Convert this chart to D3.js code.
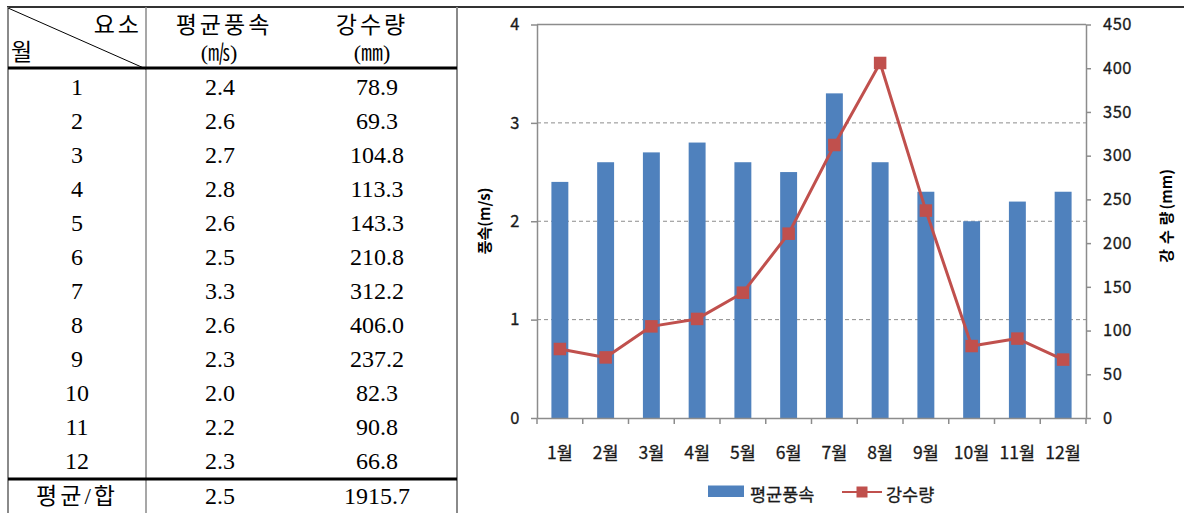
<!DOCTYPE html>
<html>
<head>
<meta charset="utf-8">
<script src="https://cdn.jsdelivr.net/npm/d3@7"></script>
<style>
  body { margin: 0; background: #fff; }
  svg { display: block; }
</style>
</head>
<body>
<svg id="sheet" width="1184" height="513"></svg>
<script>
// ---- data ----
const months = ["1월", "2월", "3월", "4월", "5월", "6월", "7월", "8월", "9월", "10월", "11월", "12월"];
const monthNumbers = [1, 2, 3, 4, 5, 6, 7, 8, 9, 10, 11, 12];
const windSpeed = [2.4, 2.6, 2.7, 2.8, 2.6, 2.5, 3.3, 2.6, 2.3, 2.0, 2.2, 2.3];
const rainfall = [78.9, 69.3, 104.8, 113.3, 143.3, 210.8, 312.2, 406.0, 237.2, 82.3, 90.8, 66.8];
const windTicks = [0, 1, 2, 3, 4];
const rainTicks = [0, 50, 100, 150, 200, 250, 300, 350, 400, 450];
const seriesNames = ["평균풍속", "강수량"];
const windTitle = ["풍속", "(m/s)"];
const rainTitle = ["강수량", "(mm)"];
const headerCorner = ["요소", "월"];
const headerNames = ["평균풍속", "강수량"];
const headerUnits = ["(㎧)", "(㎜)"];
const footerLabel = "평균/합";

const svg = d3.select("#sheet");
const BLUE = "#4F81BD", RED = "#C0504D", GRID = "#8c8c8c", INK = "#1a1a1a";
const chartFont = "'Noto Sans CJK KR', 'Noto Sans', sans-serif";
const tableFont = "'Liberation Serif', 'Noto Sans CJK KR', serif";

// ---- table ----
const table = svg.append("g");
const colX = [77, 220, 377];
const rowY = d3.range(12).map(i => 86.5 + i * 34);

function hline(y, x1, x2, color, w) {
  table.append("line").attr("x1", x1).attr("x2", x2).attr("y1", y).attr("y2", y)
    .attr("stroke", color).attr("stroke-width", w);
}
function vline(x, y1, y2, color, w) {
  table.append("line").attr("x1", x).attr("x2", x).attr("y1", y1).attr("y2", y2)
    .attr("stroke", color).attr("stroke-width", w);
}
hline(7, 7, 1184, "#333", 2);
vline(8, 7, 513, "#8a8a8a", 2);
vline(146, 7, 513, "#8a8a8a", 1.5);
vline(457, 7, 513, "#8a8a8a", 2);
hline(68, 8, 457, "#000", 3);
hline(479, 8, 457, "#000", 3);
table.append("line").attr("x1", 8).attr("y1", 8).attr("x2", 146).attr("y2", 69)
  .attr("stroke", "#000").attr("stroke-width", 1);

function cell(x, y, txt, anchor, size, spacing) {
  table.append("text").attr("x", x).attr("y", y)
    .attr("text-anchor", anchor || "middle")
    .attr("dominant-baseline", "central")
    .attr("font-family", tableFont)
    .attr("font-size", size || 24)
    .attr("letter-spacing", spacing || 0)
    .attr("fill", "#000")
    .text(txt);
}
cell(142, 25, headerCorner[0], "end", 23, 3);
cell(11, 52, headerCorner[1], "start", 23, 0);
cell(224, 25, headerNames[0], "middle", 23, 3);
cell(219, 52, headerUnits[0], "middle", 22, 0);
cell(372, 25, headerNames[1], "middle", 23, 3);
cell(372, 52, headerUnits[1], "middle", 22, 0);

monthNumbers.forEach((m, i) => {
  cell(colX[0], rowY[i], String(m));
  cell(colX[1], rowY[i], windSpeed[i].toFixed(1));
  cell(colX[2], rowY[i], rainfall[i].toFixed(1));
});
cell(colX[0], 496, footerLabel, "middle", 23, 3);
cell(colX[1], 496, d3.mean(windSpeed).toFixed(1));
cell(colX[2], 496, d3.sum(rainfall).toFixed(1));

// ---- chart ----
const chart = svg.append("g").attr("font-family", chartFont);
const x = d3.scaleBand().domain(months).range([537, 1086]);
const yL = d3.scaleLinear().domain([0, 4]).range([418, 24.5]);
const yR = d3.scaleLinear().domain([0, 450]).range([418, 24.5]);

// dashed gridlines and plot frame top
chart.append("g").selectAll("line").data(windTicks.filter(t => t > 0 && t < 4)).join("line")
  .attr("x1", x.range()[0]).attr("x2", x.range()[1])
  .attr("y1", d => yL(d)).attr("y2", d => yL(d))
  .attr("stroke", GRID).attr("stroke-width", 1).attr("stroke-dasharray", "4,3");
chart.append("line").attr("x1", x.range()[0]).attr("x2", x.range()[1])
  .attr("y1", yL(4)).attr("y2", yL(4)).attr("stroke", GRID).attr("stroke-width", 1.5);

// bars
const barW = x.bandwidth() * 0.37;
chart.append("g").selectAll("rect").data(windSpeed).join("rect")
  .attr("x", (d, i) => x(months[i]) + (x.bandwidth() - barW) / 2)
  .attr("width", barW)
  .attr("y", d => yL(d))
  .attr("height", d => yL(0) - yL(d))
  .attr("fill", BLUE);

// axes
function styleAxis(g) {
  g.selectAll("path, line").attr("stroke", GRID).attr("stroke-width", 1.5);
  g.selectAll("text").attr("font-family", chartFont).attr("fill", INK)
    .attr("stroke", INK).attr("stroke-width", 0.3);
}
chart.append("g").attr("transform", `translate(${x.range()[0]},0)`)
  .call(d3.axisLeft(yL).tickValues(windTicks).tickFormat(d3.format("d"))
    .tickSize(6).tickSizeOuter(0).tickPadding(11))
  .call(g => g.attr("font-size", 16.5).attr("letter-spacing", 0.5))
  .call(styleAxis);
chart.append("g").attr("transform", `translate(${x.range()[1]},0)`)
  .call(d3.axisRight(yR).tickValues(rainTicks).tickSize(5).tickSizeOuter(0).tickPadding(12))
  .call(g => g.attr("font-size", 16.5).attr("letter-spacing", 0.5))
  .call(styleAxis);
const xAxis = chart.append("g").attr("transform", `translate(0,${yL(0)})`)
  .call(d3.axisBottom(x).tickSize(0).tickSizeOuter(0).tickPadding(29))
  .call(g => g.attr("font-size", 17.5))
  .call(styleAxis);
// category boundary ticks
xAxis.append("g").selectAll("line").data(d3.range(months.length + 1)).join("line")
  .attr("x1", i => x.range()[0] + i * x.step()).attr("x2", i => x.range()[0] + i * x.step())
  .attr("y1", 0).attr("y2", 6).attr("stroke", GRID).attr("stroke-width", 1.5);

// rainfall line
const cx = i => x(months[i]) + x.bandwidth() / 2;
chart.append("path").datum(rainfall)
  .attr("fill", "none").attr("stroke", RED).attr("stroke-width", 3)
  .attr("stroke-linejoin", "round")
  .attr("d", d3.line().x((d, i) => cx(i)).y(d => yR(d)));
const mk = 12.5;
chart.append("g").selectAll("rect").data(rainfall).join("rect")
  .attr("x", (d, i) => cx(i) - mk / 2).attr("y", d => yR(d) - mk / 2)
  .attr("width", mk).attr("height", mk).attr("fill", RED);

// axis titles
const t1 = chart.append("text").attr("transform", "translate(483,221) rotate(-90)")
  .attr("text-anchor", "middle").attr("dominant-baseline", "central")
  .attr("font-size", 15).attr("font-weight", "bold").attr("fill", "#000");
t1.append("tspan").text(windTitle[0]);
t1.append("tspan").text(windTitle[1]);
const t2 = chart.append("text").attr("transform", "translate(1165,216) rotate(-90)")
  .attr("text-anchor", "middle").attr("dominant-baseline", "central")
  .attr("font-size", 15).attr("font-weight", "bold").attr("fill", "#000");
t2.append("tspan").attr("letter-spacing", 5).text(rainTitle[0]);
t2.append("tspan").attr("dx", -3).text(rainTitle[1]);

// legend
const legend = chart.append("g").attr("font-size", 17.5).attr("fill", INK)
  .attr("stroke", INK).attr("stroke-width", 0.3);
legend.append("rect").attr("x", 708).attr("y", 485.5).attr("width", 36).attr("height", 11.5)
  .attr("fill", BLUE).attr("stroke", "none");
legend.append("text").attr("x", 750).attr("y", 493).attr("dominant-baseline", "central").text(seriesNames[0]);
legend.append("line").attr("x1", 842).attr("x2", 882).attr("y1", 492).attr("y2", 492)
  .attr("stroke", RED).attr("stroke-width", 2);
legend.append("rect").attr("x", 862 - 5.5).attr("y", 492 - 5.5).attr("width", 11).attr("height", 11)
  .attr("fill", RED).attr("stroke", "none");
legend.append("text").attr("x", 886).attr("y", 493).attr("dominant-baseline", "central").text(seriesNames[1]);
</script>
</body>
</html>
